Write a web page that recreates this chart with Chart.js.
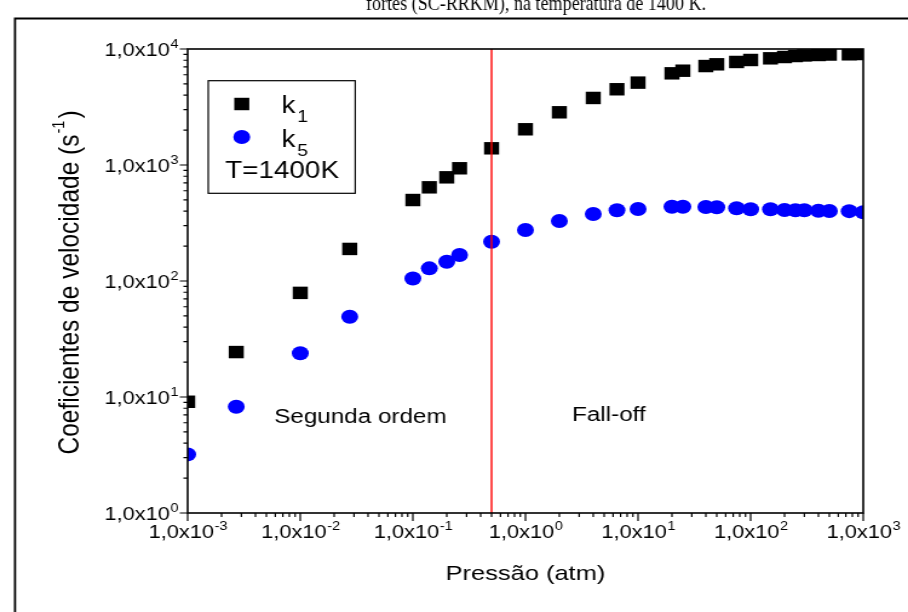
<!DOCTYPE html>
<html>
<head>
<meta charset="utf-8">
<script src="https://cdn.jsdelivr.net/npm/chart.js@4.4.1/dist/chart.umd.min.js"></script>
<style>
  html, body { margin: 0; padding: 0; background: #fff; overflow: hidden; }
  /* a figura original está esticada na horizontal */
  #wrap { width: 750px; height: 612px; transform: scaleX(1.2107); transform-origin: 0 0; }
</style>
</head>
<body>
<div id="wrap"><canvas id="grafico"></canvas></div>
<script>
// dados
const pressao = [0.001, 0.0027, 0.01, 0.0275, 0.1, 0.14, 0.2, 0.26, 0.5, 1, 2, 4, 6.5, 10,
  20, 25, 40, 50, 75, 100, 150, 200, 250, 300, 400, 500, 750, 1000];
const k1 = [9.1, 24.4, 79, 189, 499, 642, 783, 937, 1393, 2032, 2847, 3784, 4497, 5130,
  6170, 6500, 7130, 7380, 7730, 8040, 8310, 8530, 8700, 8800, 8880, 8960, 9000, 9050];
const k5 = [3.2, 8.25, 23.8, 49.2, 105, 128.6, 146.6, 167.5, 218, 275, 329, 378, 407, 418,
  437, 437, 434, 432, 424, 415, 415, 409, 407, 407, 403, 401, 400, 391];

const xDecadas = [1e-3, 1e-2, 1e-1, 1e0, 1e1, 1e2, 1e3];
const xExpoentes = ['-3', '-2', '-1', '0', '1', '2', '3'];
const yDecadas = [1e0, 1e1, 1e2, 1e3, 1e4];
const yExpoentes = ['0', '1', '2', '3', '4'];
const pressaoLimite = 0.5;
const legenda = ['k', '1', 'k', '5', 'T=1400K'];
const regioes = ['Segunda ordem', 'Fall-off'];
const legendaFigura = 'fortes (SC-RRKM), na temperatura de 1400 K.';

const FONTE = '"Liberation Sans", Arial, sans-serif';
const ESTICA = 1.2107;

function pares(xs, ys) {
  return xs.map((v, i) => ({ x: v, y: ys[i] }));
}

// "1,0x10" + expoente
function potencia(ctx, x, y, exp, align) {
  ctx.font = '18px ' + FONTE;
  const wb = ctx.measureText('1,0x10').width;
  ctx.font = '12px ' + FONTE;
  const we = ctx.measureText(exp).width;
  let x0 = x;
  if (align === 'center') x0 = x - (wb + we) / 2;
  if (align === 'right') x0 = x - (wb + we);
  ctx.textAlign = 'left';
  ctx.font = '18px ' + FONTE;
  ctx.fillText('1,0x10', x0, y);
  ctx.font = '12px ' + FONTE;
  ctx.fillText(exp, x0 + wb + 0.5, y - 8);
}

const decoracao = {
  id: 'decoracao',
  afterDraw(chart) {
    const { ctx, chartArea: a } = chart;
    const sx = chart.scales.x, sy = chart.scales.y;
    ctx.save();
    ctx.fillStyle = '#000';
    ctx.strokeStyle = '#000';

    // moldura externa e legenda da figura (cortada, sem esticar)
    ctx.lineWidth = 1.8;
    ctx.beginPath();
    ctx.moveTo(12.4, 612); ctx.lineTo(12.4, 18.5); ctx.lineTo(760, 18.5);
    ctx.stroke();
    ctx.save();
    ctx.scale(0.86 / ESTICA, 1);
    ctx.font = '21px "Liberation Serif", "Times New Roman", serif';
    ctx.textAlign = 'center';
    ctx.textBaseline = 'alphabetic';
    ctx.fillText(legendaFigura, 536 / 0.86, 10);
    ctx.restore();

    // caixa do gráfico
    ctx.lineWidth = 1.6;
    ctx.strokeRect(a.left, a.top, a.right - a.left, a.bottom - a.top);

    // marcas dos eixos
    ctx.lineWidth = 1.2;
    ctx.beginPath();
    xDecadas.forEach((d, i) => {
      const px = sx.getPixelForValue(d);
      ctx.moveTo(px, a.bottom); ctx.lineTo(px, a.bottom + 8);
      if (i < xDecadas.length - 1) {
        for (let m = 2; m <= 9; m++) {
          const pm = sx.getPixelForValue(m * d);
          ctx.moveTo(pm, a.bottom); ctx.lineTo(pm, a.bottom + 4);
        }
      }
    });
    yDecadas.forEach((d, i) => {
      const py = sy.getPixelForValue(d);
      ctx.moveTo(a.left, py); ctx.lineTo(a.left - 6.5, py);
      if (i < yDecadas.length - 1) {
        for (let m = 2; m <= 9; m++) {
          const pm = sy.getPixelForValue(m * d);
          ctx.moveTo(a.left, pm); ctx.lineTo(a.left - 3.5, pm);
        }
      }
    });
    ctx.stroke();

    // rótulos
    ctx.textBaseline = 'alphabetic';
    xDecadas.forEach((d, i) => {
      potencia(ctx, sx.getPixelForValue(d), 538, xExpoentes[i], 'center');
    });
    yDecadas.forEach((d, i) => {
      potencia(ctx, a.left - 8, sy.getPixelForValue(d) + 6.5, yExpoentes[i], 'right');
    });

    // título do eixo y
    ctx.save();
    ctx.translate(64.5, 284);
    ctx.rotate(-Math.PI / 2);
    ctx.font = '24.5px ' + FONTE;
    const t1 = 'Coeficientes de velocidade (s';
    const w1 = ctx.measureText(t1).width;
    ctx.font = '14.5px ' + FONTE;
    const w2 = ctx.measureText('-1').width;
    ctx.font = '24.5px ' + FONTE;
    const w3 = ctx.measureText(')').width;
    const x0 = -(w1 + w2 + w3) / 2;
    ctx.textAlign = 'left';
    ctx.fillText(t1, x0, 0);
    ctx.font = '14.5px ' + FONTE;
    ctx.fillText('-1', x0 + w1 + 1, -11.5);
    ctx.font = '24.5px ' + FONTE;
    ctx.fillText(')', x0 + w1 + w2 + 3, 0);
    ctx.restore();

    // legenda
    ctx.lineWidth = 1.2;
    ctx.strokeRect(172, 80.7, 121.4, 112.6);
    Chart.helpers.drawPoint(ctx, { pointStyle: 'rect', radius: 8.8, borderWidth: 0 }, 199.7, 104);
    ctx.fillStyle = '#0000ff';
    Chart.helpers.drawPoint(ctx, { pointStyle: 'circle', radius: 7, borderWidth: 0 }, 199.7, 137);
    ctx.fillStyle = '#000';
    ctx.textAlign = 'left';
    ctx.font = '23px ' + FONTE;
    ctx.fillText(legenda[0], 232.5, 113);
    ctx.fillText(legenda[2], 232.5, 146.5);
    ctx.font = '16px ' + FONTE;
    ctx.fillText(legenda[1], 245.5, 122);
    ctx.fillText(legenda[3], 245.5, 156);
    ctx.font = '23px ' + FONTE;
    ctx.fillText(legenda[4], 186, 178);

    // regiões
    ctx.font = '20px ' + FONTE;
    ctx.fillText(regioes[0], 226.5, 423);
    ctx.fillText(regioes[1], 472.5, 421);

    ctx.restore();
  }
};

new Chart(document.getElementById('grafico'), {
  type: 'scatter',
  data: {
    datasets: [
      {
        label: 'P = 0,5 atm',
        data: [{ x: pressaoLimite, y: yDecadas[0] }, { x: pressaoLimite, y: yDecadas[yDecadas.length - 1] }],
        showLine: true,
        borderColor: '#ff0000',
        borderWidth: 1.4,
        pointRadius: 0,
        clip: 0
      },
      {
        label: 'k1',
        data: pares(pressao, k1),
        pointStyle: 'rect',
        pointRadius: 8.8,
        pointBorderWidth: 0,
        backgroundColor: '#000',
        borderColor: '#000',
        clip: 0
      },
      {
        label: 'k5',
        data: pares(pressao, k5),
        pointStyle: 'circle',
        pointRadius: 7,
        pointBorderWidth: 0,
        backgroundColor: '#0000ff',
        borderColor: '#0000ff',
        clip: 0
      }
    ]
  },
  options: {
    responsive: true,
    maintainAspectRatio: false,
    animation: false,
    events: [],
    layout: { padding: { top: 49, right: 37, bottom: 21.4, left: 0 } },
    plugins: { legend: { display: false }, tooltip: { enabled: false } },
    scales: {
      x: {
        type: 'logarithmic',
        min: 1e-3, max: 1e3,
        grid: { display: false },
        border: { display: false },
        ticks: { display: false },
        title: {
          display: true,
          text: 'Pressão (atm)',
          color: '#000',
          font: { family: FONTE, size: 21 }
        },
        afterFit(s) { s.height = 77.6; }
      },
      y: {
        type: 'logarithmic',
        min: 1, max: 1e4,
        grid: { display: false },
        border: { display: false },
        ticks: { display: false },
        afterFit(s) { s.width = 155; }
      }
    }
  },
  plugins: [decoracao]
});
</script>
</body>
</html>
